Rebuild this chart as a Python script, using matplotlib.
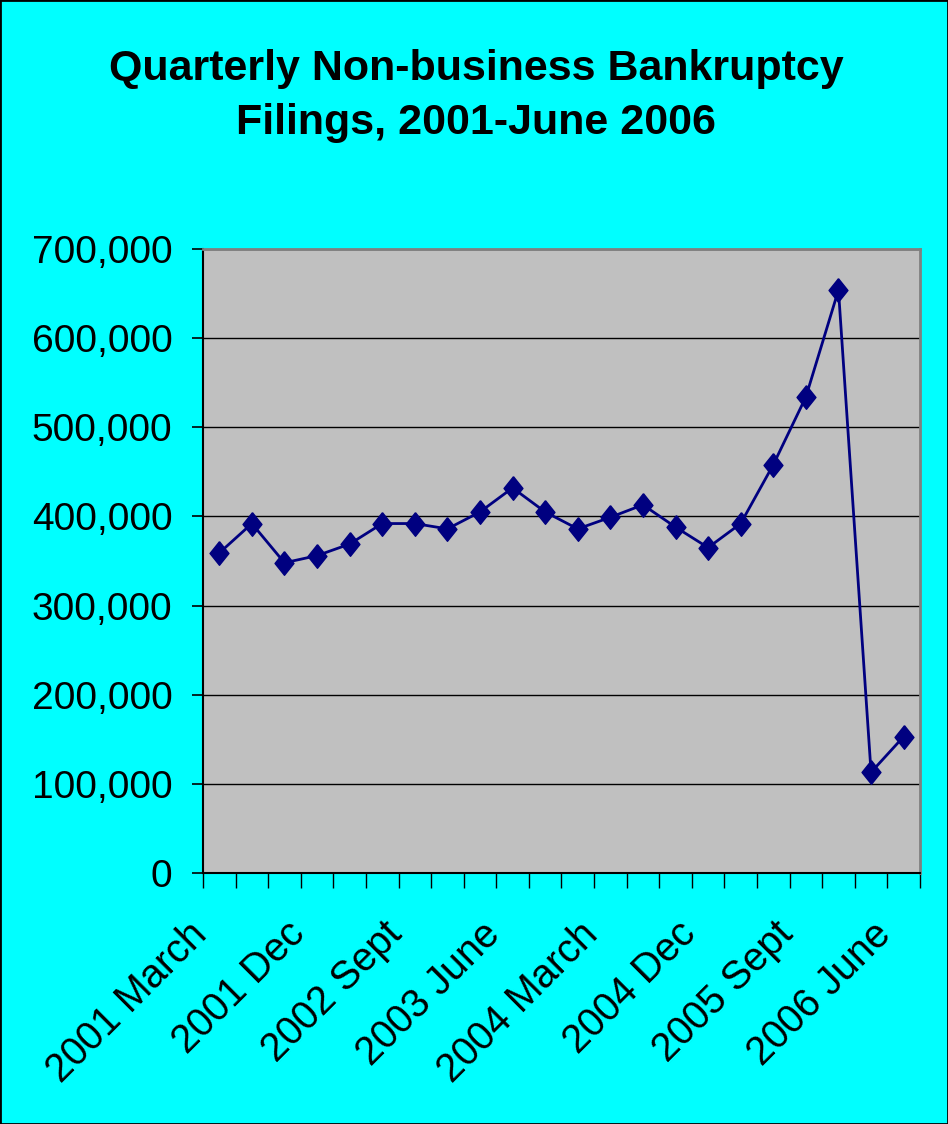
import numpy as np
import matplotlib
import matplotlib.pyplot as plt
import matplotlib.transforms as mtransforms
from matplotlib.ticker import FixedLocator, FuncFormatter

matplotlib.use('Agg')
plt.rcParams['font.family'] = ['Liberation Sans', 'DejaVu Sans']

quarters = ['2001 March', '2001 June', '2001 Sept', '2001 Dec',
            '2002 March', '2002 June', '2002 Sept', '2002 Dec',
            '2003 March', '2003 June', '2003 Sept', '2003 Dec',
            '2004 March', '2004 June', '2004 Sept', '2004 Dec',
            '2005 March', '2005 June', '2005 Sept', '2005 Dec',
            '2006 March', '2006 June']
filings = [359000, 392000, 348000, 356000, 369000, 392000, 392000, 386000,
           405000, 432000, 405000, 386000, 399000, 413000, 388000, 365000,
           392000, 458000, 534000, 654000, 113000, 153000]
label_every = 3

fig = plt.figure(figsize=(9.48, 11.24), dpi=100, facecolor='#00FFFF')
ax = fig.add_axes([0.2141, 0.2233, 0.7563, 0.5552])
ax.set_facecolor('#C0C0C0')

# Excel-style diamond, a bit taller than wide
diamond = [(0, 1), (0.8, 0), (0, -1), (-0.8, 0), (0, 1)]

x = np.arange(len(quarters))
ax.plot(x, filings, color='#000080', linewidth=2, marker=diamond, markersize=17,
        markerfacecolor='#000080', markeredgecolor='#000080', zorder=3)

ax.set_xlim(-0.5, len(quarters) - 0.5)
ax.set_ylim(0, 700000)
ax.set_yticks(np.arange(0, 700001, 100000))
ax.yaxis.set_major_formatter(FuncFormatter(lambda v, p: f'{int(v):,}'))
ax.yaxis.grid(True, color='black', linewidth=1)
ax.set_axisbelow(True)

# category labels every third quarter, tick marks between categories
ax.set_xticks(x[::label_every])
ax.set_xticklabels(quarters[::label_every], rotation=45, ha='right',
                   rotation_mode='anchor')
ax.xaxis.set_minor_locator(FixedLocator(np.arange(-0.5, len(quarters), 1)))
ax.tick_params(axis='x', which='major', length=0, pad=30, labelsize=28.5)
ax.tick_params(axis='x', which='minor', length=11, width=1, color='black')
ax.tick_params(axis='y', length=8, width=1.2, labelsize=28, pad=14)

shift = mtransforms.ScaledTranslation(-0.32, 0, fig.dpi_scale_trans)
for lbl in ax.get_xticklabels():
    lbl.set_transform(lbl.get_transform() + shift)

for side in ['top', 'right']:
    ax.spines[side].set_color('#808080')
    ax.spines[side].set_linewidth(2)
ax.spines['left'].set_linewidth(1.5)
ax.spines['bottom'].set_linewidth(1.5)

fig.text(0.502, 0.9146, 'Quarterly Non-business Bankruptcy\nFilings, 2001-June 2006',
         ha='center', va='center', fontsize=31, fontweight='bold',
         linespacing=1.45)

fig.patches.append(plt.Rectangle((0, 0), 1, 1, transform=fig.transFigure,
                                 fill=False, edgecolor='black', linewidth=2))

fig.savefig('out.png', dpi=100, facecolor=fig.get_facecolor())
plt.close()
